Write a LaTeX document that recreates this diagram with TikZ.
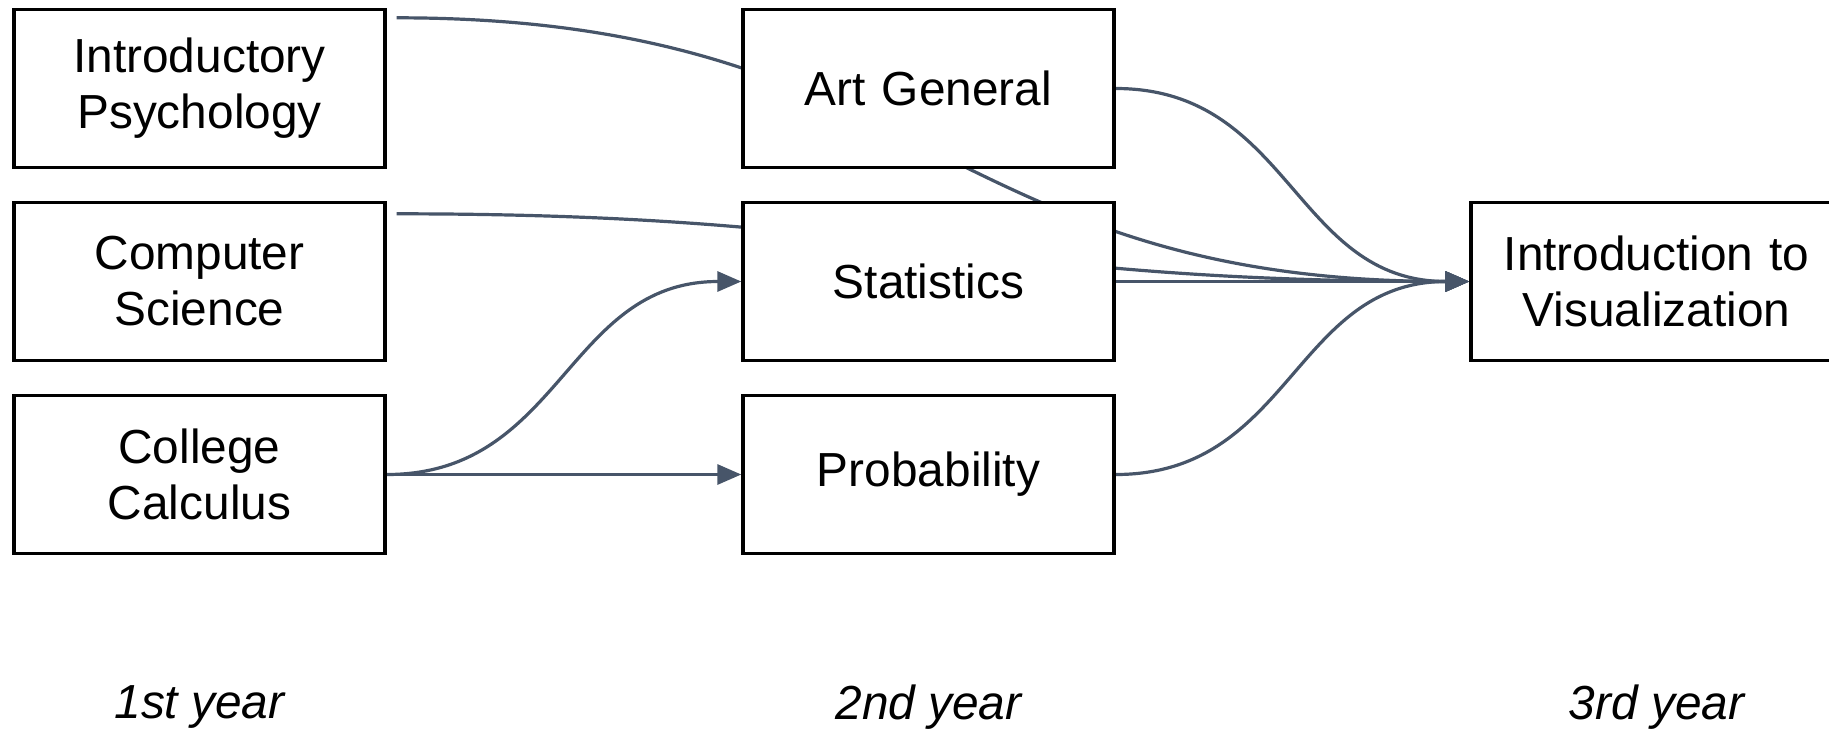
\documentclass[tikz,border=0pt]{standalone}
\usepackage{fontspec}
\setmainfont{Liberation Sans}
\usetikzlibrary{positioning, arrows.meta, backgrounds}
\definecolor{linkgray}{HTML}{475569}

\begin{document}
\begin{tikzpicture}[x=0.5pt, y=-0.5pt, node distance=15.8pt, >={Triangle[length=12pt, width=10pt]}]
    % Define block styles
    \tikzstyle{course} = [rectangle, draw, line width=1.7pt, fill=white, text width=175pt, align=center, minimum width=185.5pt, minimum height=79pt, font=\fontsize{23.9}{28}\selectfont]
    \tikzstyle{link} = [draw=linkgray, line width=1.6pt]
    \tikzstyle{yearlabel} = [inner sep=0pt, font=\fontsize{23.9}{28}\selectfont\itshape]

    \useasboundingbox (0,0) rectangle (1829,729);

    % Place first year courses
    \node [course] (psych) at (199.5,88.5) {Introductory\\Psychology};
    \node [course, below=of psych] (cs) {Computer\\Science};
    \node [course, below=of cs] (calc) {College\\Calculus};

    % Place second year courses
    \node [course, right=177.3pt of psych] (art) {Art General};
    \node [course, below=of art] (stats) {Statistics};
    \node [course, below=of stats] (prob) {Probability};

    % Place third year course
    \node [course, right=176.8pt of stats] (vis) {Introduction to\\Visualization};

    % Year labels
    \node [yearlabel, below=65pt of calc] (year1) {1st year};
    \node [yearlabel] (year2) at (prob |- year1) {2nd year};
    \node [yearlabel] (year3) at (vis |- year1) {3rd year};

    % Draw connections (behind the boxes)
    \begin{pgfonlayer}{background}
        \draw [link, ->] ([shift={(10,10)}]psych.north east) .. controls +(530,0) and +(-530,0) .. (vis.west);
        \draw [link, ->] ([shift={(10,13)}]cs.north east) .. controls +(510,0) and +(-510,0) .. (vis.west);
        \draw [link, ->] (art.east) .. controls +(175,0) and +(-175,0) .. (vis.west);
        \draw [link, ->] (stats.east) -- (vis.west);
        \draw [link, ->] (prob.east) .. controls +(175,0) and +(-175,0) .. (vis.west);
        \draw [link, ->] (calc.east) .. controls +(175,0) and +(-175,0) .. (stats.west);
        \draw [link, ->] (calc.east) -- (prob.west);
    \end{pgfonlayer}

\end{tikzpicture}
\end{document}
